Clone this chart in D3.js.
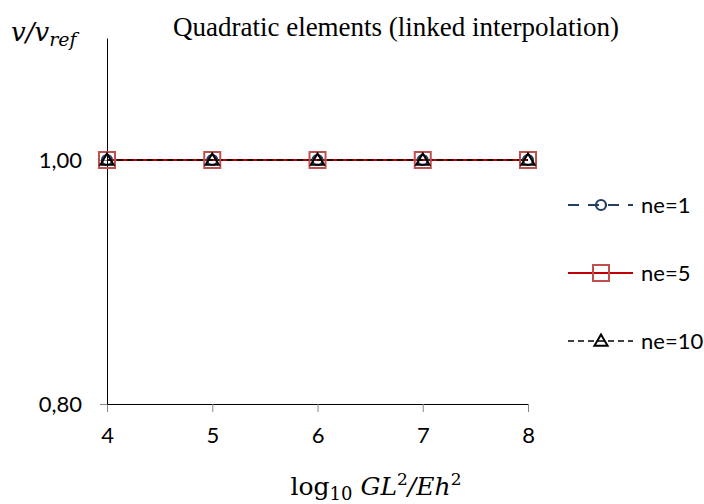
<!DOCTYPE html>
<html><head><meta charset="utf-8">
<script src="https://cdn.jsdelivr.net/npm/d3@7"></script>
<style>body{margin:0;background:#fff}svg{display:block}</style>
</head><body>
<svg id="c" width="704" height="504"></svg>
<script>
const xValues = [4, 5, 6, 7, 8];
const ne1 = [1.00, 1.00, 1.00, 1.00, 1.00];
const ne5 = [1.00, 1.00, 1.00, 1.00, 1.00];
const ne10 = [1.00, 1.00, 1.00, 1.00, 1.00];
const seriesNames = ["ne=1", "ne=5", "ne=10"];
const yTickValues = [0.8, 1.0];
const xTickValues = [4, 5, 6, 7, 8];

const svg = d3.select("#c");
const x = d3.scaleLinear().domain([4, 8]).range([107, 528]);
const y = d3.scaleLinear().domain([0.8, 1.1]).range([404, 38]);
const tickFont = "Lato, 'Open Sans', sans-serif";

// axes
const xa = svg.append("g").attr("transform", "translate(0,404)")
  .call(d3.axisBottom(x).tickValues(xTickValues).tickSize(8).tickSizeOuter(0).tickFormat(d3.format("d")));
xa.select(".domain").attr("stroke", "#000");
xa.selectAll(".tick line").attr("stroke", "#888");
xa.selectAll("text").attr("font-family", tickFont).attr("font-size", 22).attr("fill", "#000").attr("y", 39).attr("dy", 0);

const ya = svg.append("g").attr("transform", "translate(107,0)")
  .call(d3.axisLeft(y).tickValues(yTickValues).tickSize(7).tickSizeOuter(0)
    .tickFormat(d => d3.format(".2f")(d).replace(".", ",")));
ya.select(".domain").attr("stroke", "#000");
ya.selectAll(".tick line").attr("stroke", "#888");
ya.selectAll("text").attr("font-family", tickFont).attr("font-size", 22).attr("fill", "#000").attr("x", -25);

// series
const series = [
  {name: seriesNames[0], vals: ne1, color: "#243f60", dash: "11,9", width: 2.2, marker: "circle", mcolor: "#243f60"},
  {name: seriesNames[1], vals: ne5, color: "#c00000", dash: null, width: 2, marker: "square", mcolor: "#c0504d"},
  {name: seriesNames[2], vals: ne10, color: "#000", dash: "6,4", width: 1.5, marker: "triangle", mcolor: "#000"}
];
const line = d3.line().x((d, i) => x(xValues[i])).y(d => y(d));

function marker(g, type, cx, cy, col) {
  if (type === "circle") {
    g.append("circle").attr("cx", cx).attr("cy", cy).attr("r", 5).attr("fill", "none").attr("stroke", col).attr("stroke-width", 2.2);
  } else if (type === "square") {
    g.append("rect").attr("x", cx - 8).attr("y", cy - 8).attr("width", 16).attr("height", 16).attr("fill", "none").attr("stroke", col).attr("stroke-width", 2);
  } else {
    g.append("path").attr("d", d3.symbol(d3.symbolTriangle, 75)()).attr("transform", `translate(${cx},${cy + 1})`).attr("fill", "none").attr("stroke", col).attr("stroke-width", 2);
  }
}

series.forEach(s => {
  svg.append("path").datum(s.vals).attr("d", line).attr("fill", "none")
    .attr("stroke", s.color).attr("stroke-width", s.width).attr("stroke-dasharray", s.dash);
});
series.forEach(s => {
  const g = svg.append("g");
  s.vals.forEach((v, i) => marker(g, s.marker, x(xValues[i]), y(v), s.mcolor));
});

// legend
const legY = [205, 273, 341];
series.forEach((s, i) => {
  const g = svg.append("g");
  g.append("line").attr("x1", 568).attr("x2", 633).attr("y1", legY[i]).attr("y2", legY[i])
    .attr("stroke", s.color).attr("stroke-width", s.width).attr("stroke-dasharray", s.dash);
  marker(g, s.marker, 601, legY[i], s.mcolor);
  g.append("text").attr("x", 641).attr("y", legY[i]).attr("dy", "0.35em")
    .attr("font-family", tickFont).attr("font-size", 22).attr("fill", "#000").text(s.name);
});

// title
svg.append("text").attr("x", 396).attr("y", 36).attr("text-anchor", "middle")
  .attr("font-family", "'Liberation Serif', 'Times New Roman', serif").attr("font-size", 27).attr("fill", "#000")
  .text("Quadratic elements (linked interpolation)");

// y label
const yl = svg.append("text").attr("x", 11).attr("y", 41)
  .attr("font-family", "'DejaVu Serif', 'Liberation Serif', serif").attr("font-size", 26).attr("fill", "#000").attr("font-style", "italic");
yl.append("tspan").text("v/v");
yl.append("tspan").attr("dy", 5).attr("font-size", 19).text("ref");

// x label
const xl = svg.append("text").attr("x", 376).attr("y", 495).attr("text-anchor", "middle")
  .attr("font-family", "'DejaVu Serif', 'Liberation Serif', serif").attr("font-size", 25).attr("fill", "#000");
xl.append("tspan").text("log");
xl.append("tspan").attr("dy", 5).attr("font-size", 18).text("10");
xl.append("tspan").attr("dy", -5).attr("font-style", "italic").text(" GL");
xl.append("tspan").attr("dy", -10).attr("font-size", 17).text("2");
xl.append("tspan").attr("dy", 10).attr("font-style", "italic").text("/Eh");
xl.append("tspan").attr("dy", -10).attr("font-size", 17).text("2");
</script>
</body></html>
